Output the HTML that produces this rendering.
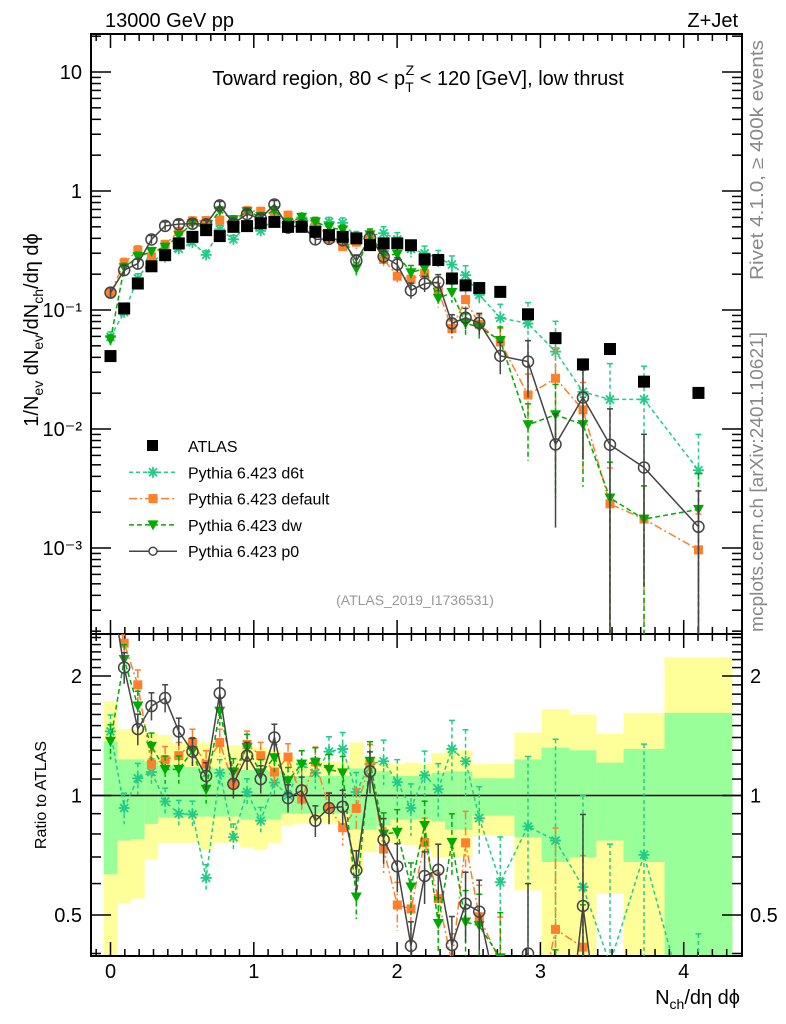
<!DOCTYPE html>
<html><head><meta charset="utf-8">
<style>
html,body{margin:0;padding:0;background:#fff;overflow:hidden;width:786px;height:1024px;}
svg{display:block;font-family:"Liberation Sans",sans-serif;}
</style></head>
<body>
<svg id="chart" width="786" height="1024" viewBox="0 0 786 1024" xmlns="http://www.w3.org/2000/svg">
<text x="105" y="27" font-size="20">13000 GeV pp</text>
<text x="738" y="27" font-size="20" text-anchor="end">Z+Jet</text>
<text transform="translate(763,280) rotate(-90)" font-size="18" fill="#888" textLength="240" lengthAdjust="spacingAndGlyphs">Rivet 4.1.0, ≥ 400k events</text>
<text transform="translate(763,632) rotate(-90)" font-size="18" fill="#888" textLength="300" lengthAdjust="spacingAndGlyphs">mcplots.cern.ch [arXiv:2401.10621]</text>
<text transform="translate(38,330) rotate(-90)" font-size="20" text-anchor="middle">1/N<tspan font-size="14" dy="5">ev</tspan><tspan dy="-5"> dN</tspan><tspan font-size="14" dy="5">ev</tspan><tspan dy="-5">/dN</tspan><tspan font-size="14" dy="5">ch</tspan><tspan dy="-5">/dη dϕ</tspan></text>
<text transform="translate(46,795) rotate(-90)" font-size="16" text-anchor="middle">Ratio to ATLAS</text>
<text x="740" y="1004" font-size="20" text-anchor="end">N<tspan font-size="14" dy="5">ch</tspan><tspan dy="-5">/dη dϕ</tspan></text>
<text x="418" y="85" font-size="20" text-anchor="middle">Toward region, 80 &lt; p<tspan font-size="14" dy="7">T</tspan><tspan font-size="14" dx="-8" dy="-17">Z</tspan><tspan dy="10"> &lt; 120 [GeV], low thrust</tspan></text>
<text x="415" y="605" font-size="14" fill="#999" text-anchor="middle">(ATLAS_2019_I1736531)</text>
<g id="bands"></g><g id="axes"></g><g id="series"></g><g id="legend"></g>
</svg>
<script>
// ---- data ----
const binEdges = [-0.0477,0.0477,0.1430,0.2383,0.3336,0.4289,0.5242,0.6195,0.7148,0.8101,0.9054,1.0007,1.0960,1.1913,1.2866,1.3819,1.4772,1.5725,1.6678,1.7631,1.8584,1.9537,2.0490,2.1443,2.2396,2.3349,2.4302,2.5255,2.621,2.819,3.008,3.203,3.391,3.58,3.866,4.34];
const atlasValues = [0.041,0.103,0.167,0.233,0.289,0.363,0.412,0.469,0.418,0.50,0.507,0.535,0.55,0.50,0.50,0.454,0.426,0.412,0.40,0.351,0.363,0.363,0.35,0.266,0.263,0.184,0.161,0.153,0.142,0.092,0.058,0.0349,0.047,0.025,0.0201];
const d6tRatio = [1.45,0.93,1.105,1.146,0.966,0.90,0.896,0.62,1.14,0.785,1.02,0.864,1.078,1.0,1.20,1.14,1.29,1.31,1.02,1.2,1.22,1.08,0.93,1.125,1.037,1.31,1.22,0.877,0.605,0.836,0.77,0.588,0.377,0.709,0.224];
const defaultRatio = [3.4,2.42,1.90,1.2,1.23,1.26,1.36,1.2,1.36,1.067,1.345,1.26,1.146,1.25,0.98,1.215,0.933,0.83,0.928,1.2,0.733,0.53,0.518,0.762,0.55,0.38,0.76,0.495,0.38,0.21,0.46,0.415,0.05,0.07,0.048];
const dwRatio = [1.37,2.2,1.68,1.33,1.164,1.164,1.295,1.037,1.63,1.146,1.32,1.14,1.245,1.089,1.2,1.21,1.164,1.14,0.555,1.22,0.80,0.808,0.588,0.841,0.476,0.762,0.48,0.47,0.39,0.118,0.227,0.312,0.056,0.07,0.105];
const p0Ratio = [3.41,2.10,1.47,1.68,1.76,1.45,1.29,1.12,1.81,1.07,1.26,1.10,1.40,0.985,1.03,0.864,0.93,0.937,0.648,1.15,0.774,0.663,0.418,0.627,0.65,0.42,0.534,0.51,0.29,0.40,0.128,0.527,0.157,0.19,0.075];
const mcRelErr = [0.1,0.09,0.09,0.08,0.08,0.08,0.08,0.08,0.08,0.08,0.08,0.08,0.08,0.08,0.08,0.09,0.09,0.1,0.12,0.12,0.13,0.14,0.15,0.15,0.16,0.18,0.2,0.2,0.3,0.5,0.8,0.7,1.0,0.9,1.0];
const yellowHi = [1.73,1.47,1.47,1.44,1.42,1.36,1.36,1.36,1.34,1.34,1.32,1.32,1.30,1.25,1.22,1.22,1.22,1.22,1.36,1.25,1.21,1.20,1.21,1.20,1.28,1.30,1.30,1.20,1.203,1.44,1.65,1.6,1.43,1.615,2.23];
const yellowLo = [0.39,0.534,0.55,0.69,0.76,0.76,0.76,0.73,0.76,0.76,0.74,0.73,0.76,0.84,0.85,0.85,0.85,0.85,0.64,0.72,0.76,0.76,0.75,0.73,0.70,0.70,0.70,0.79,0.792,0.577,0.39,0.39,0.565,0.39,0.39];
const greenHi = [1.37,1.233,1.233,1.22,1.19,1.19,1.18,1.18,1.17,1.17,1.16,1.16,1.15,1.12,1.12,1.12,1.12,1.12,1.17,1.17,1.15,1.12,1.12,1.12,1.14,1.15,1.15,1.105,1.105,1.233,1.32,1.30,1.21,1.31,1.615];
const greenLo = [0.633,0.77,0.777,0.848,0.88,0.88,0.885,0.885,0.885,0.885,0.87,0.87,0.87,0.90,0.90,0.90,0.90,0.90,0.82,0.82,0.84,0.87,0.87,0.87,0.86,0.82,0.82,0.89,0.89,0.785,0.68,0.699,0.77,0.68,0.39];
const xTickLabels = ["0","1","2","3","4"];
const mainTickLabels = ["10\u207B\u00B3","10\u207B\u00B2","10\u207B\u00B9","1","10"];
const ratioTickLabels = ["0.5","1","2"];

// ---- geometry ----
const NS="http://www.w3.org/2000/svg";
const L=91,R=742,T1=34,B1=634,T2=634,B2=956;
const sx=v=>110.5+v*143.3;
const sy=v=>191-119*Math.log10(v);
const sr=v=>795.5-397*Math.log10(v);
function mk(tag,attrs,parent){const e=document.createElementNS(NS,tag);for(const k in attrs)e.setAttribute(k,attrs[k]);parent.appendChild(e);return e;}
const gB=document.getElementById('bands'),gA=document.getElementById('axes'),gS=document.getElementById('series'),gL=document.getElementById('legend');
const clampR=y=>Math.max(T2,Math.min(B2,y));

for(let i=0;i<atlasValues.length;i++){
  const x0=Math.max(L,sx(binEdges[i])),x1=sx(binEdges[i+1]);
  const yb=mk('rect',{x:x0,y:clampR(sr(yellowHi[i])),width:x1-x0,height:clampR(sr(yellowLo[i]))-clampR(sr(yellowHi[i])),fill:'#ffff99'},gB);
  
  
  const gb=mk('rect',{x:x0,y:clampR(sr(greenHi[i])),width:x1-x0,height:clampR(sr(greenLo[i]))-clampR(sr(greenHi[i])),fill:'#99ff99'},gB);
  
  
}
const one=mk('line',{x1:L,x2:R,y1:sr(1),y2:sr(1),stroke:'#000','stroke-width':1.5},gA);



for(const [t,b,n] of [[T1,B1,'main-frame'],[T2,B2,'ratio-frame']]){
  const f=mk('rect',{x:L,y:t,width:R-L,height:b-t,fill:'none',stroke:'#000','stroke-width':2},gA);
  
  
}
for(let k=-1;k<=43;k++){
  const v=k/10,x=sx(v);if(x<L||x>R)continue;const maj=k%10===0;const len=maj?14:7;
  for(const [t,b] of [[T1,B1],[T2,B2]]){
    mk('line',{x1:x,x2:x,y1:b,y2:b-len,stroke:'#000','stroke-width':1.5},gA);
    mk('line',{x1:x,x2:x,y1:t,y2:t+len,stroke:'#000','stroke-width':1.5},gA);
  }
}
xTickLabels.forEach((s,i)=>{const t=mk('text',{x:sx(i),y:978,'font-size':20,'text-anchor':'middle'},gA);t.textContent=s;
  
  });
for(let d=-4;d<=1;d++){for(let m=1;m<=9;m++){const v=m*Math.pow(10,d);const y=sy(v);if(y<T1||y>B1)continue;const len=m===1?20:10;
  mk('line',{x1:L,x2:L+len,y1:y,y2:y,stroke:'#000','stroke-width':1.5},gA);
  mk('line',{x1:R,x2:R-len,y1:y,y2:y,stroke:'#000','stroke-width':1.5},gA);}}
mainTickLabels.forEach((s,i)=>{const t=mk('text',{x:82,y:sy(Math.pow(10,i-3))+7,'font-size':20,'text-anchor':'end'},gA);t.textContent=s;
  
  });
for(let v=0.4;v<2.6;v+=0.1){const y=sr(v);if(y<T2||y>B2)continue;const maj=Math.abs(v-0.5)<1e-6||Math.abs(v-1)<1e-6||Math.abs(v-2)<1e-6;const len=maj?20:10;
  mk('line',{x1:L,x2:L+len,y1:y,y2:y,stroke:'#000','stroke-width':1.5},gA);
  mk('line',{x1:R,x2:R-len,y1:y,y2:y,stroke:'#000','stroke-width':1.5},gA);}
[0.5,1,2].forEach((v,i)=>{for(const [x,a] of [[82,'end'],[750,'start']]){const t=mk('text',{x:x,y:sr(v)+7,'font-size':20,'text-anchor':a},gA);t.textContent=ratioTickLabels[i];
  
  }});

function marker(kind,x,y,c,g){
  if(kind==='sq') return mk('rect',{x:x-6,y:y-6,width:12,height:12,fill:c},g);
  if(kind==='osq') return mk('rect',{x:x-4.5,y:y-4.5,width:9,height:9,fill:c},g);
  if(kind==='tri') return mk('path',{d:`M${x-5.5},${y-4.5}L${x+5.5},${y-4.5}L${x},${y+5.5}Z`,fill:c},g);
  if(kind==='circ') return mk('circle',{cx:x,cy:y,r:5.5,fill:'none',stroke:c,'stroke-width':1.5},g);
  if(kind==='star') return mk('path',{d:`M${x-5.5},${y}H${x+5.5}M${x},${y-5.5}V${y+5.5}M${x-4},${y-4}L${x+4},${y+4}M${x-4},${y+4}L${x+4},${y-4}`,stroke:c,'stroke-width':1.8},g);
}
const seriesDefs=[
  {name:'d6t',ratio:d6tRatio,color:'#22cc88',dash:'4,3',kind:'star'},
  {name:'default',ratio:defaultRatio,color:'#ff7f2a',dash:'8,3,2,3',kind:'osq'},
  {name:'dw',ratio:dwRatio,color:'#00aa00',dash:'5,3',kind:'tri'},
  {name:'p0',ratio:p0Ratio,color:'#444444',dash:'',kind:'circ'}
];
const centers=atlasValues.map((_,i)=>(binEdges[i]+binEdges[i+1])/2);

const defs=mk('defs',{},gS);
const c1=mk('clipPath',{id:'cm'},defs);mk('rect',{x:L,y:T1,width:R-L,height:B1-T1},c1);
const c2=mk('clipPath',{id:'cr'},defs);mk('rect',{x:L,y:T2,width:R-L,height:B2-T2},c2);
const gm=mk('g',{'clip-path':'url(#cm)'},gS),gr=mk('g',{'clip-path':'url(#cr)'},gS);

seriesDefs.forEach(s=>{
  const vals=s.ratio.map((r,i)=>r*atlasValues[i]);
  const sm=mk('g',{},gm);
  
  
  const sr2=mk('g',{},gr);
  
  
  const ptsM=vals.map((v,i)=>sx(centers[i])+','+sy(v)).join(' ');
  const ptsR=s.ratio.map((v,i)=>sx(centers[i])+','+sr(v)).join(' ');
  mk('polyline',{points:ptsM,fill:'none',stroke:s.color,'stroke-width':1.5,'stroke-dasharray':s.dash},sm);
  mk('polyline',{points:ptsR,fill:'none',stroke:s.color,'stroke-width':1.5,'stroke-dasharray':s.dash},sr2);
  vals.forEach((v,i)=>{
    const x=sx(centers[i]),e=mcRelErr[i];
    const lo=v*(1-e),hi=v*(1+e);
    const yl=lo>0?Math.min(sy(lo),B1):B1,yh=sy(hi);
    mk('line',{x1:x,x2:x,y1:yh,y2:yl,stroke:s.color,'stroke-width':1.5,'stroke-dasharray':s.dash},sm);
    mk('line',{x1:x-3,x2:x+3,y1:yh,y2:yh,stroke:s.color,'stroke-width':1.5},sm);
    const r=s.ratio[i],rl=r*(1-e),rh=r*(1+e);
    const ryl=rl>0?Math.min(sr(rl),B2):B2,ryh=sr(rh);
    mk('line',{x1:x,x2:x,y1:ryh,y2:ryl,stroke:s.color,'stroke-width':1.5,'stroke-dasharray':s.dash},sr2);
    mk('line',{x1:x-3,x2:x+3,y1:ryh,y2:ryh,stroke:s.color,'stroke-width':1.5},sr2);
    const a=marker(s.kind,x,sy(v),s.color,sm);
    
    
    const b=marker(s.kind,x,sr(r),s.color,sr2);
    
    
  });
});
atlasValues.forEach((v,i)=>{
  const p=marker('sq',sx(centers[i]),sy(v),'#000',gm);
  
  
});

const legItems=[['ATLAS','sq','#000',''],['Pythia 6.423 d6t','star','#22cc88','4,3'],['Pythia 6.423 default','osq','#ff7f2a','8,3,2,3'],['Pythia 6.423 dw','tri','#00aa00','5,3'],['Pythia 6.423 p0','circ','#444444','']];
legItems.forEach((it,k)=>{
  const y=446+k*26.3;
  const g=mk('g',{},gL);
  
  
  if(k>0) mk('line',{x1:129,x2:177,y1:y,y2:y,stroke:it[2],'stroke-width':1.5,'stroke-dasharray':it[3]},g);
  if(it[1]==='circ') mk('circle',{cx:153,cy:y,r:4,fill:'#fff',stroke:it[2],'stroke-width':1.5},g);
  else if(it[1]==='sq') mk('rect',{x:147,y:y-6,width:11,height:11,fill:'#000'},g);
  else marker(it[1],153,y,it[2],g);
  const t=mk('text',{x:188,y:y+6,'font-size':16},g);t.textContent=it[0];
});
</script>
</body></html>
